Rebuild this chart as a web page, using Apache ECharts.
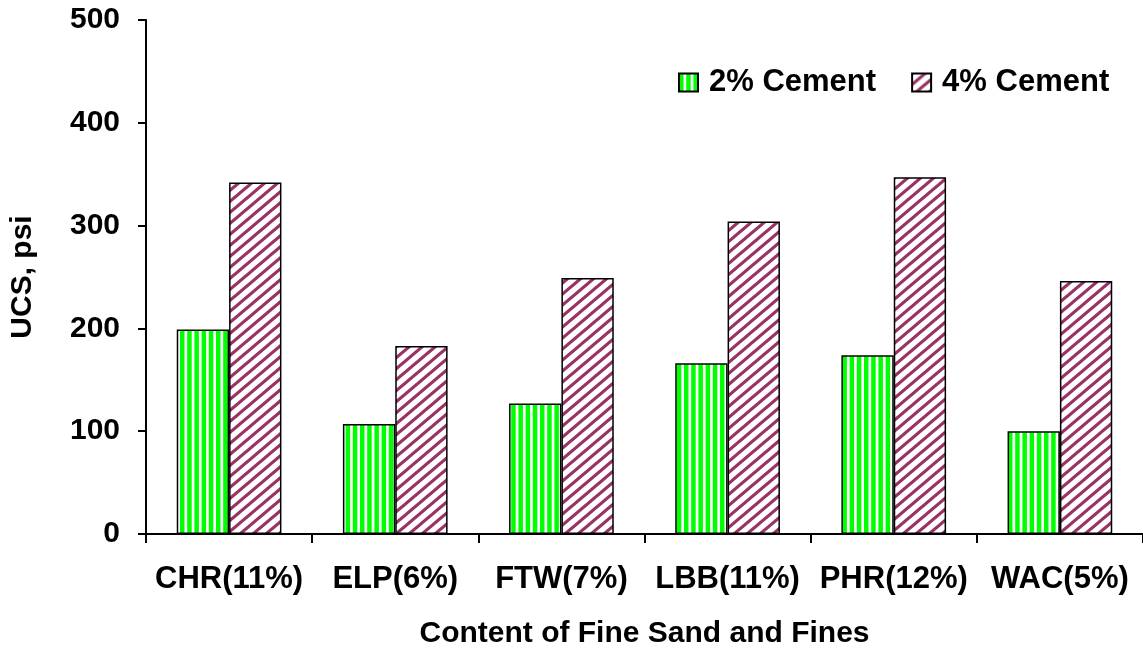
<!DOCTYPE html>
<html>
<head>
<meta charset="utf-8">
<script src="https://cdn.jsdelivr.net/npm/echarts@6/dist/echarts.min.js"></script>
<style>
html,body{margin:0;padding:0;background:#fff;}
#c{width:1143px;height:654px;}
</style>
</head>
<body>
<div id="c"></div>
<script>
const categories = ['CHR(11%)', 'ELP(6%)', 'FTW(7%)', 'LBB(11%)', 'PHR(12%)', 'WAC(5%)'];
const cement2 = [199, 107, 127, 166, 174, 100];
const cement4 = [342, 183, 249, 304, 347, 246];
const seriesNames = ['2% Cement', '4% Cement'];
const yMin = 0, yMax = 500, yStep = 100;
const xTitle = 'Content of Fine Sand and Fines';
const yTitle = 'UCS, psi';

function greenPattern() {
  const w = 36, n = 5, p = w / n;
  const c = document.createElement('canvas');
  c.width = w; c.height = 20;
  const g = c.getContext('2d');
  g.fillStyle = '#ffffff'; g.fillRect(0, 0, w, 20);
  g.fillStyle = '#00ff00';
  for (let i = 0; i < n; i++) g.fillRect(i * p, 0, 4.5, 20);
  return c;
}
function purplePattern() {
  const W = 13, H = 11;
  const c = document.createElement('canvas');
  c.width = W; c.height = H;
  const g = c.getContext('2d');
  g.fillStyle = '#ffffff'; g.fillRect(0, 0, W, H);
  g.strokeStyle = '#993366'; g.lineWidth = 3.2;
  g.beginPath();
  for (let k = -1; k <= 1; k++) {
    g.moveTo(k * W, H); g.lineTo(k * W + W, 0);
    g.moveTo(k * W - W, 2 * H); g.lineTo(k * W + 2 * W, -H);
  }
  g.stroke();
  return c;
}
const font = 'Liberation Sans, Arial, sans-serif';
const chart = echarts.init(document.getElementById('c'), null, {renderer: 'canvas'});
chart.setOption({
  animation: false,
  backgroundColor: '#ffffff',
  grid: {left: 145, top: 20, width: 1005, height: 520, containLabel: false},
  legend: {
    left: 673, top: 62, itemWidth: 19, itemHeight: 18, itemGap: 35,
    icon: 'rect',
    textStyle: {fontFamily: font, fontWeight: 'bold', fontSize: 31, color: '#000', padding: [0, 0, 0, 6]},
    data: seriesNames
  },
  xAxis: {
    type: 'category', data: categories,
    name: xTitle, nameLocation: 'middle', nameGap: 85,
    nameTextStyle: {fontFamily: font, fontWeight: 'bold', fontSize: 30, color: '#000'},
    axisLine: {lineStyle: {color: '#000', width: 2}},
    axisTick: {show: true, length: 9, lineStyle: {color: '#000', width: 2}},
    axisLabel: {fontFamily: font, fontWeight: 'bold', fontSize: 31, color: '#000', margin: 30, interval: 0},
    splitLine: {show: false}
  },
  yAxis: {
    type: 'value', min: yMin, max: yMax, interval: yStep,
    name: yTitle, nameLocation: 'middle', nameGap: 108, nameRotate: 90,
    nameTextStyle: {fontFamily: font, fontWeight: 'bold', fontSize: 30, color: '#000'},
    axisLine: {show: true, lineStyle: {color: '#000', width: 2}},
    axisTick: {show: true, length: 8, lineStyle: {color: '#000', width: 2}},
    axisLabel: {fontFamily: font, fontWeight: 'bold', fontSize: 30, color: '#000', margin: 26},
    splitLine: {show: false}
  },
  series: [
    {
      name: seriesNames[0], type: 'bar', data: cement2,
      barGap: '0%', barCategoryGap: '37%',
      itemStyle: {color: {image: greenPattern(), repeat: 'repeat'}, borderColor: '#000', borderWidth: 1.5}
    },
    {
      name: seriesNames[1], type: 'bar', data: cement4,
      barGap: '0%', barCategoryGap: '37%',
      itemStyle: {color: {image: purplePattern(), repeat: 'repeat'}, borderColor: '#000', borderWidth: 1.5}
    }
  ]
});
</script>
</body>
</html>
